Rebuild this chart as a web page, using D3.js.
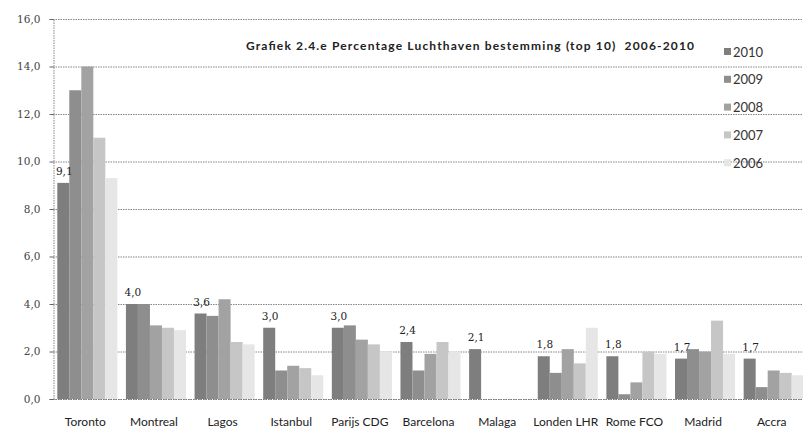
<!DOCTYPE html>
<html>
<head>
<meta charset="utf-8">
<script src="https://cdn.jsdelivr.net/npm/d3@7"></script>
<style>
  body { margin: 0; background: #fff; }
  svg { display: block; }
</style>
</head>
<body>
<svg id="chart" width="803" height="433"></svg>
<script>
// luchthavens (top 10) en jaren
var airports = ["Toronto", "Montreal", "Lagos", "Istanbul", "Parijs CDG", "Barcelona",
                "Malaga", "Londen LHR", "Rome FCO", "Madrid", "Accra"];
var years = ["2010", "2009", "2008", "2007", "2006"];

var pct2010 = [9.1, 4.0, 3.6, 3.0, 3.0, 2.4, 2.1, 1.8, 1.8, 1.7, 1.7];
var pct2009 = [13.0, 4.0, 3.5, 1.2, 3.1, 1.2, 0, 1.1, 0.2, 2.1, 0.5];
var pct2008 = [14.0, 3.1, 4.2, 1.4, 2.5, 1.9, 0, 2.1, 0.7, 2.0, 1.2];
var pct2007 = [11.0, 3.0, 2.4, 1.3, 2.3, 2.4, 0, 1.5, 2.0, 3.3, 1.1];
var pct2006 = [9.3, 2.9, 2.3, 1.0, 2.0, 2.0, 0, 3.0, 1.9, 1.9, 1.0];
var yTicks = [0, 2, 4, 6, 8, 10, 12, 14, 16];

var title = "Grafiek 2.4.e Percentage Luchthaven bestemming (top 10)  2006-2010";

var seriesValues = [pct2010, pct2009, pct2008, pct2007, pct2006];
var shades = ["#7e7e7e", "#8e8e8e", "#a2a2a2", "#c6c6c6", "#e6e6e6"];

var svg = d3.select("#chart");
var fmt = function(v){ return d3.format(".1f")(v).replace(".", ","); };

var x = d3.scaleBand().domain(airports).range([53, 808])
  .paddingInner(0.125).paddingOuter(0.0625);
var xs = d3.scaleBand().domain(years).range([0, x.bandwidth()]);
var y = d3.scaleLinear().domain([0, 16]).range([399, 19]);

// gridlines (dotted, behind the bars)
svg.append("g").selectAll("line")
  .data(yTicks)
  .enter().append("line")
  .attr("x1", 53).attr("x2", 803)
  .attr("y1", function(d){ return y(d) + 0.5; })
  .attr("y2", function(d){ return y(d) + 0.5; })
  .style("stroke", "#666")
  .style("stroke-width", 0.8)
  .style("stroke-dasharray", "1.5,1");

// y axis
var yAxis = d3.axisLeft(y).tickValues(yTicks).tickSize(4).tickFormat(fmt);
var ya = svg.append("g").attr("transform", "translate(53.5,0)").call(yAxis);
ya.select(".domain").style("stroke", "#888").style("stroke-dasharray", "1.5,1");
ya.selectAll(".tick line").style("stroke", "#666");
ya.selectAll("text")
  .attr("x", -13)
  .style("font-family", "DejaVu Serif")
  .style("font-size", "10.5px")
  .style("fill", "#444");

// bars
var rows = [];
airports.forEach(function(a, i){
  years.forEach(function(yr, j){
    rows.push({airport: a, year: yr, value: seriesValues[j][i], idx: j});
  });
});

svg.append("g").selectAll("rect")
  .data(rows.filter(function(d){ return d.value > 0; }))
  .enter().append("rect")
  .attr("x", function(d){ return x(d.airport) + xs(d.year); })
  .attr("y", function(d){ return y(d.value); })
  .attr("width", xs.bandwidth())
  .attr("height", function(d){ return y(0) - y(d.value); })
  .style("fill", function(d){ return shades[d.idx]; });

// x axis
var xa = svg.append("g").attr("transform", "translate(0,399.5)")
  .call(d3.axisBottom(x).tickSize(0).tickPadding(18));
xa.select(".domain").attr("d", "M53,0H803").style("stroke", "#777").style("stroke-dasharray", "1.5,1");
xa.selectAll("text")
  .attr("dx", -2)
  .style("font-family", "Lato")
  .style("font-size", "12px")
  .style("fill", "#222");

// data labels for 2010
svg.append("g").selectAll("text")
  .data(airports)
  .enter().append("text")
  .attr("x", function(d){ return x(d) + xs("2010") + xs.bandwidth() / 2 + 1; })
  .attr("y", function(d, i){ return y(pct2010[i]) - 8; })
  .attr("text-anchor", "middle")
  .style("font-family", "DejaVu Serif")
  .style("font-size", "10.5px")
  .style("fill", "#222")
  .text(function(d, i){ return fmt(pct2010[i]); });

// title
svg.append("text")
  .attr("x", 246).attr("y", 50)
  .attr("textLength", 448)
  .style("white-space", "pre")
  .style("font-family", "Lato")
  .style("font-weight", "bold")
  .style("font-size", "12px")
  .style("fill", "#222")
  .text(title);

// legend
var legend = svg.append("g").selectAll("g")
  .data(years)
  .enter().append("g")
  .attr("transform", function(d, i){ return "translate(724," + (52 + i * 27.8) + ")"; });
legend.append("rect")
  .attr("x", 0).attr("y", -4).attr("width", 7).attr("height", 7)
  .style("fill", function(d, i){ return shades[i]; });
legend.append("text")
  .attr("x", 9).attr("y", 4.5)
  .style("font-family", "Lato")
  .style("font-size", "13px")
  .style("fill", "#333")
  .text(function(d){ return d; });
</script>
</body>
</html>
